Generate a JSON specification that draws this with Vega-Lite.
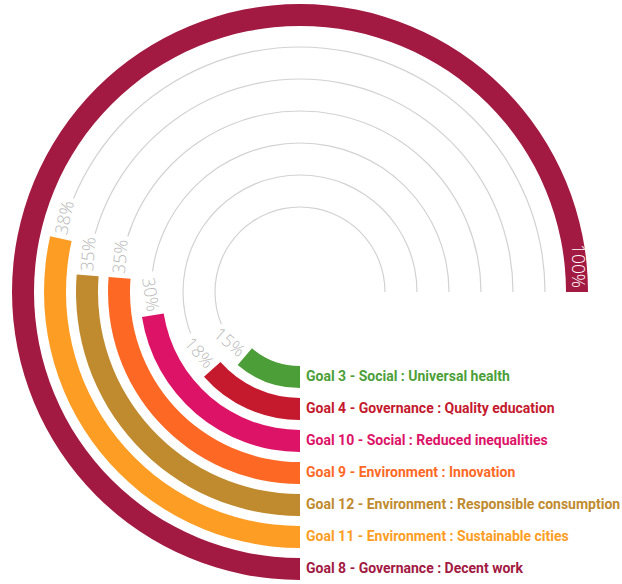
{
  "$schema": "https://vega.github.io/schema/vega-lite/v6.json",
  "width": 600,
  "height": 584,
  "autosize": "none",
  "padding": {"left": 0, "top": 0, "right": 22, "bottom": 0},
  "background": "white",
  "config": {"view": {"stroke": null}},
  "data": {
    "values": [
      {"goal": "Goal 3 - Social : Universal health", "value": 0.15},
      {"goal": "Goal 4 - Governance : Quality education", "value": 0.18},
      {"goal": "Goal 10 - Social : Reduced inequalities", "value": 0.30},
      {"goal": "Goal 9 - Environment : Innovation", "value": 0.35},
      {"goal": "Goal 12 - Environment : Responsible consumption", "value": 0.35},
      {"goal": "Goal 11 - Environment : Sustainable cities", "value": 0.38},
      {"goal": "Goal 8 - Governance : Decent work", "value": 1.0}
    ]
  },
  "resolve": {"scale": {"angle": "independent"}},
  "layer": [
    {
      "transform": [{"filter": "datum.value < 1"}],
      "mark": {"type": "arc", "radiusOffset": 0.6, "radius2Offset": -0.6, "color": "#d2d2d2"},
      "encoding": {
        "theta": {"datum": 0, "type": "quantitative", "scale": {"domain": [0, 1], "range": [3.14159265, 7.85398163]}},
        "theta2": {"datum": 1},
        "radius": {"field": "goal", "type": "ordinal", "scale": {"type": "point", "padding": 0, "domain": ["Goal 3 - Social : Universal health", "Goal 4 - Governance : Quality education", "Goal 10 - Social : Reduced inequalities", "Goal 9 - Environment : Innovation", "Goal 12 - Environment : Responsible consumption", "Goal 11 - Environment : Sustainable cities", "Goal 8 - Governance : Decent work"], "range": [85, 277]}},
        "radius2": {"field": "goal"}
      }
    },
    {
      "transform": [{"filter": "datum.value < 0.3334"}],
      "mark": {"type": "text", "align": "right", "baseline": "middle", "dx": -4, "font": "Open Sans", "fontSize": 17.5, "fontWeight": 300, "color": "white", "stroke": "white", "strokeWidth": 10},
      "encoding": {
        "theta": {"field": "value", "type": "quantitative", "scale": {"domain": [0, 1], "range": [3.14159265, 7.85398163]}},
        "radius": {"field": "goal", "type": "ordinal"},
        "angle": {"field": "value", "type": "quantitative", "scale": {"domain": [0, 1], "range": [0, 270]}},
        "text": {"field": "value", "type": "quantitative", "format": ".0%"}
      }
    },
    {
      "transform": [{"filter": "datum.value >= 0.3334 && datum.value < 1"}],
      "mark": {"type": "text", "align": "left", "baseline": "middle", "dx": 4, "font": "Open Sans", "fontSize": 17.5, "fontWeight": 300, "color": "white", "stroke": "white", "strokeWidth": 10},
      "encoding": {
        "theta": {"field": "value", "type": "quantitative", "scale": {"domain": [0, 1], "range": [3.14159265, 7.85398163]}},
        "radius": {"field": "goal", "type": "ordinal"},
        "angle": {"field": "value", "type": "quantitative", "scale": {"domain": [0, 1], "range": [180, 450]}},
        "text": {"field": "value", "type": "quantitative", "format": ".0%"}
      }
    },
    {
      "mark": {"type": "arc", "radiusOffset": 11, "radius2Offset": -11},
      "encoding": {
        "theta": {"field": "value", "type": "quantitative", "stack": null, "scale": {"domain": [0, 1], "range": [3.14159265, 7.85398163]}},
        "theta2": {"datum": 0},
        "radius": {"field": "goal", "type": "ordinal"},
        "radius2": {"field": "goal"},
        "color": {"field": "goal", "type": "nominal", "legend": null, "scale": {"domain": ["Goal 3 - Social : Universal health", "Goal 4 - Governance : Quality education", "Goal 10 - Social : Reduced inequalities", "Goal 9 - Environment : Innovation", "Goal 12 - Environment : Responsible consumption", "Goal 11 - Environment : Sustainable cities", "Goal 8 - Governance : Decent work"], "range": ["#4C9F38", "#C5192D", "#DD1367", "#FD6925", "#BF8B2E", "#FD9D24", "#A21942"]}}
      }
    },
    {
      "transform": [{"filter": "datum.value < 0.3334"}],
      "mark": {"type": "text", "align": "right", "baseline": "middle", "dx": -4, "font": "Open Sans", "fontSize": 17.5, "fontWeight": 300, "color": "#bababa"},
      "encoding": {
        "theta": {"field": "value", "type": "quantitative", "scale": {"domain": [0, 1], "range": [3.14159265, 7.85398163]}},
        "radius": {"field": "goal", "type": "ordinal"},
        "angle": {"field": "value", "type": "quantitative", "scale": {"domain": [0, 1], "range": [0, 270]}},
        "text": {"field": "value", "type": "quantitative", "format": ".0%"}
      }
    },
    {
      "transform": [{"filter": "datum.value >= 0.3334 && datum.value < 1"}],
      "mark": {"type": "text", "align": "left", "baseline": "middle", "dx": 4, "font": "Open Sans", "fontSize": 17.5, "fontWeight": 300, "color": "#bababa"},
      "encoding": {
        "theta": {"field": "value", "type": "quantitative", "scale": {"domain": [0, 1], "range": [3.14159265, 7.85398163]}},
        "radius": {"field": "goal", "type": "ordinal"},
        "angle": {"field": "value", "type": "quantitative", "scale": {"domain": [0, 1], "range": [180, 450]}},
        "text": {"field": "value", "type": "quantitative", "format": ".0%"}
      }
    },
    {
      "transform": [{"filter": "datum.value >= 1"}],
      "mark": {"type": "text", "align": "right", "baseline": "middle", "dx": -4, "font": "Open Sans", "fontSize": 17.5, "fontWeight": 300, "color": "white"},
      "encoding": {
        "theta": {"field": "value", "type": "quantitative", "scale": {"domain": [0, 1], "range": [3.14159265, 7.85398163]}},
        "radius": {"field": "goal", "type": "ordinal"},
        "angle": {"field": "value", "type": "quantitative", "scale": {"domain": [0, 1], "range": [180, 450]}},
        "text": {"field": "value", "type": "quantitative", "format": ".0%"}
      }
    },
    {
      "mark": {"type": "text", "align": "left", "baseline": "middle", "dx": 6, "font": "Roboto", "fontSize": 14, "fontWeight": "bold"},
      "encoding": {
        "theta": {"datum": 0, "type": "quantitative", "scale": {"domain": [0, 1], "range": [3.14159265, 7.85398163]}},
        "radius": {"field": "goal", "type": "ordinal"},
        "color": {"field": "goal", "type": "nominal", "legend": null},
        "text": {"field": "goal", "type": "nominal"}
      }
    }
  ]
}
